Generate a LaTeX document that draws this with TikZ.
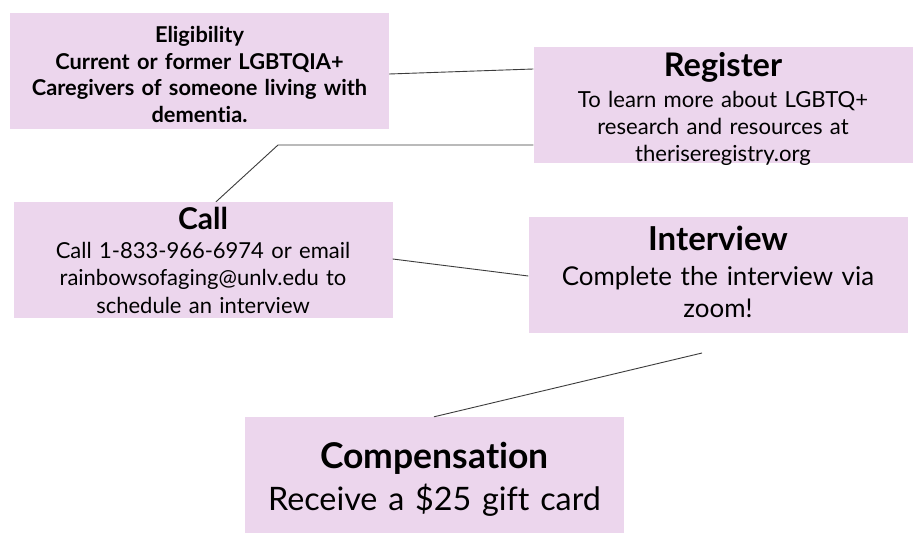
\documentclass[tikz,border=0pt]{standalone}
\usepackage{fontspec}
\usetikzlibrary{calc}
\setmainfont{Lato}[Ligatures=NoCommon,WordSpace=1.1]
\definecolor{boxfill}{RGB}{236,214,237}
\definecolor{linecol}{RGB}{60,60,60}
\begin{document}
\begin{tikzpicture}[x=1pt,y=-1pt,
  infobox/.style={fill=boxfill,draw=none,inner sep=0pt,
    minimum width=379pt,minimum height=116pt},
  boxtext/.style={align=center,inner sep=0pt,text width=375pt},
  link/.style={draw=linecol,line width=0.9pt}]
\useasboundingbox (0,0) rectangle (920,543);
\fill[white] (0,0) rectangle (920,543);
% boxes
\node[infobox] (elig) at (199.5,71) {};
\node[infobox] (reg) at (723,105) {};
\node[infobox] (call) at (203,260) {};
\node[infobox] (int) at (718,275) {};
\node[infobox] (comp) at (434.5,475) {};
% texts
\node[boxtext,font=\fontsize{21.8}{26.7}\selectfont\bfseries] (eligtext) at ($(elig.center)+(0,3.5)$)
  {Eligibility\\Current or former LGBTQIA+\\Caregivers of someone living with\\dementia.};
\node[boxtext,font=\fontsize{22.1}{27}\selectfont] (regtext) at ($(reg.center)+(0,3.5)$)
  {{\fontsize{32.5}{34}\selectfont\bfseries Register}\\[4pt]To learn more about LGBTQ+\\research and resources at\\theriseregistry.org};
\node[boxtext,font=\fontsize{22}{27.5}\selectfont] (calltext) at (call.center)
  {{\fontsize{30}{32}\selectfont\bfseries Call}\\[1.5pt]Call 1-833-966-6974 or email\\rainbowsofaging@unlv.edu to\\schedule an interview};
\node[boxtext,font=\fontsize{25.9}{32}\selectfont] (inttext) at ($(int.center)+(0,-3)$)
  {{\fontsize{33}{35}\selectfont\bfseries Interview}\\[2.5pt]Complete the interview via\\zoom!};
\node[boxtext,font=\fontsize{32.3}{42}\selectfont] (comptext) at ($(comp.center)+(0,4)$)
  {{\fontsize{35.5}{38}\selectfont\bfseries Compensation}\\[0pt]Receive a \$25 gift card};
% connectors
\coordinate (bend) at (278,145);
\coordinate (ifree) at (702,353);
\draw[link] (elig.east |- 0,74) -- (reg.west |- 0,69);
\draw[link] (reg.west |- 0,145) -- (bend) -- (call.north -| 216,0);
\draw[link] (call.east |- 0,259) -- (int.west |- 0,276);
\draw[link] (ifree) -- (comp.north -| 434,0);
\end{tikzpicture}
\end{document}
